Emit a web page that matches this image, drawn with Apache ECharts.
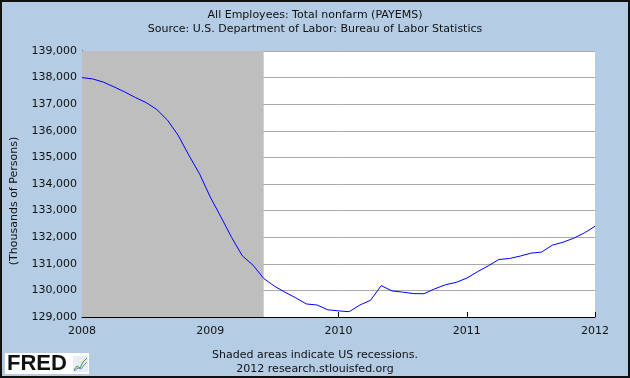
<!DOCTYPE html>
<html>
<head>
<meta charset="utf-8">
<script src="https://cdn.jsdelivr.net/npm/echarts@6/dist/echarts.min.js"></script>
<style>
html,body{margin:0;padding:0;background:#B4CCE4;}
#chart{width:630px;height:378px;}
</style>
</head>
<body>
<div id="chart"></div>
<script>
var months = [
  '2008-01','2008-02','2008-03','2008-04','2008-05','2008-06','2008-07','2008-08','2008-09','2008-10','2008-11','2008-12',
  '2009-01','2009-02','2009-03','2009-04','2009-05','2009-06','2009-07','2009-08','2009-09','2009-10','2009-11','2009-12',
  '2010-01','2010-02','2010-03','2010-04','2010-05','2010-06','2010-07','2010-08','2010-09','2010-10','2010-11','2010-12',
  '2011-01','2011-02','2011-03','2011-04','2011-05','2011-06','2011-07','2011-08','2011-09','2011-10','2011-11','2011-12',
  '2012-01'
];
var payems = [
  138000,137950,137830,137650,137460,137250,137060,136800,136400,135830,135080,134380,
  133510,132760,131990,131300,130950,130450,130160,129930,129720,129490,129450,129270,
  129230,129200,129450,129630,130180,129980,129935,129880,129875,130060,130210,130300,
  130460,130700,130920,131160,131200,131290,131400,131440,131700,131810,131960,132160,
  132410
];
var recessionStart = '2008-01';
var recessionEnd = '2009-06';
var yMin = 129000, yMax = 139000, yStep = 1000;

var titleText = 'All Employees: Total nonfarm (PAYEMS)';
var subtitleText = 'Source: U.S. Department of Labor: Bureau of Labor Statistics';
var yAxisTitle = '(Thousands of Persons)';
var footer1 = 'Shaded areas indicate US recessions.';
var footer2 = '2012 research.stlouisfed.org';

function commas(v){ return String(v).replace(/\B(?=(\d{3})+(?!\d))/g, ','); }

var chart = echarts.init(document.getElementById('chart'), null, {renderer:'canvas'});
var font = 'DejaVu Sans';
chart.setOption({
  backgroundColor: '#B4CCE4',
  animation: false,
  textStyle: {fontFamily: font},
  title: [
    {text: titleText, left: 'center', top: 5, textStyle:{fontFamily:font, fontSize:11, fontWeight:'normal', color:'#111'}},
    {text: subtitleText, left: 'center', top: 19, textStyle:{fontFamily:font, fontSize:11, fontWeight:'normal', color:'#111'}},
    {text: footer1, left: 'center', top: 345, textStyle:{fontFamily:font, fontSize:11, fontWeight:'normal', color:'#111'}},
    {text: footer2, left: 'center', top: 359, textStyle:{fontFamily:font, fontSize:11, fontWeight:'normal', color:'#111'}}
  ],
  grid: {left: 82, right: 35, top: 51, bottom: 61, show: true, backgroundColor: '#ffffff', borderWidth: 0},
  xAxis: {
    type: 'category',
    data: months,
    boundaryGap: false,
    axisLine: {lineStyle:{color:'#000', width:1}},
    axisTick: {inside: true, length: 5, interval: 11, lineStyle:{color:'#000'}},
    axisLabel: {interval: 11, margin: 9, fontSize: 11, color:'#111', fontFamily: font,
      formatter: function(v){ return v.slice(0,4); }},
    splitLine: {show:false}
  },
  yAxis: {
    type: 'value',
    min: yMin, max: yMax, interval: yStep,
    axisLine: {show:true, lineStyle:{color:'#000', width:1}},
    axisTick: {show:true, inside: true, length: 5, lineStyle:{color:'#000'}},
    axisLabel: {margin: 5, fontSize: 11, color:'#111', fontFamily: font, formatter: commas},
    splitLine: {show:true, lineStyle:{color:'#AAAAAA', width:1}}
  },
  series: [{
    type: 'line',
    data: payems,
    symbol: 'none',
    lineStyle: {color:'#0000FF', width:1},
    itemStyle: {color:'#0000FF'},
    markArea: {
      silent: true,
      itemStyle: {color:'#BEBEBE', opacity:1},
      data: [[{xAxis: recessionStart}, {xAxis: recessionEnd}]]
    }
  }],
  graphic: [
    {type:'text', x: 14, y: 201, rotation: Math.PI/2,
      style:{text: yAxisTitle, fill:'#111', font: '11px "DejaVu Sans"', align:'center', verticalAlign:'middle'}},
    {type:'rect', shape:{x:5, y:353, width:84, height:21}, style:{fill:'#ffffff'}},
    {type:'text', x: 7, y: 364, style:{text:'FRED', fill:'#111', font:'bold 22px "Liberation Sans"', verticalAlign:'middle'}},
    {type:'rect', shape:{x:73, y:356, width:15, height:16}, style:{fill:'#E8EEF4'}},
    {type:'polyline', shape:{points:[[74,370],[77,366],[80,368],[83,362],[87,358]]}, style:{stroke:'#3A9A3A', lineWidth:1, fill:null}},
    {type:'polyline', shape:{points:[[74,371],[78,368],[81,369],[84,365],[87,362]]}, style:{stroke:'#6A8ACF', lineWidth:1, fill:null}},
    {type:'rect', shape:{x:1, y:1, width:628, height:376}, style:{fill:null, stroke:'#111', lineWidth:2}}
  ]
});
</script>
</body>
</html>
